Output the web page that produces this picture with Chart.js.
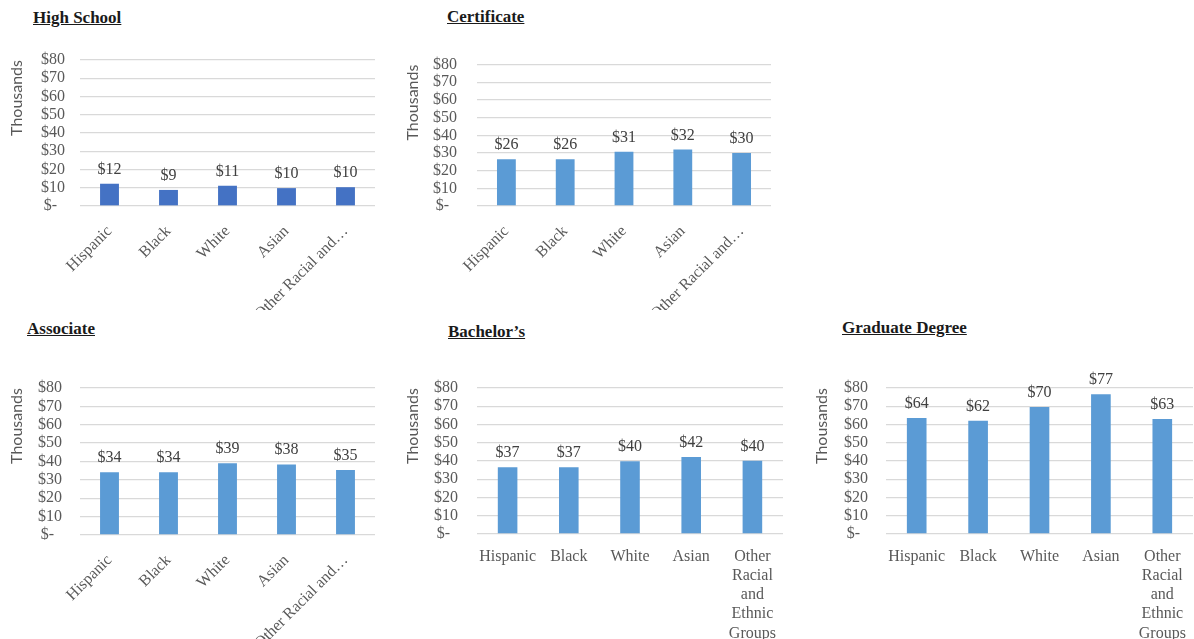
<!DOCTYPE html>
<html>
<head>
    <title>Earnings by Race and Education</title>
    <script src="https://cdn.jsdelivr.net/npm/chart.js"></script>
    <style>
        body { margin: 0; background: #fff; width: 1194px; height: 639px; position: relative; overflow: hidden; }
        .title { position: absolute; font: bold 17px "Liberation Serif", serif; color: #1a1a1a; text-decoration: underline; white-space: nowrap; }
        .box { position: absolute; }
    </style>
</head>
<body>
    <div class="title" style="left:33px; top:8px;">High School</div>
    <div class="title" style="left:447px; top:7px;">Certificate</div>
    <div class="title" style="left:27px; top:319px;">Associate</div>
    <div class="title" style="left:448px; top:322px;">Bachelor’s</div>
    <div class="title" style="left:842px; top:318px;">Graduate Degree</div>

    <div class="box" style="left:0px; top:35px; width:385px; height:275px;"><canvas id="hsChart"></canvas></div>
    <div class="box" style="left:396px; top:35px; width:394px; height:275px;"><canvas id="certChart"></canvas></div>
    <div class="box" style="left:0px; top:350px; width:390px; height:289px;"><canvas id="assocChart"></canvas></div>
    <div class="box" style="left:396px; top:350px; width:394px; height:289px;"><canvas id="bachChart"></canvas></div>
    <div class="box" style="left:805px; top:350px; width:389px; height:289px;"><canvas id="gradChart"></canvas></div>

    <script>
        // categories
        const shortLabels = ['Hispanic', 'Black', 'White', 'Asian', 'Other Racial and…'];
        const fullLabels = ['Hispanic', 'Black', 'White', 'Asian', ['Other', 'Racial', 'and', 'Ethnic', 'Groups']];

        // median earnings, thousands of dollars
        const highSchool = [12.2, 8.8, 11.1, 9.8, 10.3];
        const certificate = [26.4, 26.4, 30.7, 31.9, 30.0];
        const associate = [34.2, 34.2, 39.0, 38.4, 35.4];
        const bachelors = [36.6, 36.6, 39.8, 42.2, 40.2];
        const graduate = [63.6, 62.0, 69.6, 76.6, 63.0];

        const yMin = 0, yMax = 80, yStep = 10;

        const gray = '#595959';

        // labels above the bars
        const valueLabels = {
            id: 'valueLabels',
            afterDatasetsDraw(chart) {
                const ctx = chart.ctx;
                const values = chart.data.datasets[0].data;
                ctx.save();
                ctx.font = '16px "Liberation Serif"';
                ctx.fillStyle = '#404040';
                ctx.textAlign = 'center';
                ctx.textBaseline = 'alphabetic';
                chart.getDatasetMeta(0).data.forEach(function (bar, i) {
                    ctx.fillText('$' + Math.round(values[i]), bar.x, bar.y - 10);
                });
                ctx.restore();
            }
        };

        function makeChart(id, labels, values, color, rotated, box) {
            const ctx = document.getElementById(id).getContext('2d');
            return new Chart(ctx, {
                type: 'bar',
                data: {
                    labels: labels,
                    datasets: [{
                        data: values,
                        backgroundColor: color,
                        barPercentage: 0.32,
                        categoryPercentage: 1
                    }]
                },
                options: {
                    responsive: true,
                    maintainAspectRatio: false,
                    animation: false,
                    layout: { padding: { top: box.top, right: box.right, left: 0, bottom: 0 } },
                    plugins: { legend: { display: false }, tooltip: { enabled: false } },
                    scales: {
                        x: {
                            grid: { display: false },
                            border: { display: false },
                            ticks: {
                                color: gray,
                                font: { family: 'Liberation Serif', size: 16 },
                                autoSkip: false,
                                maxRotation: rotated ? 45 : 0,
                                minRotation: rotated ? 45 : 0,
                                padding: rotated ? 8 : 5
                            },
                            afterFit: function (scale) { scale.height = box.xHeight; }
                        },
                        y: {
                            min: yMin,
                            max: yMax,
                            border: { display: false },
                            grid: { color: '#d9d9d9', drawTicks: false, lineWidth: 1.3 },
                            ticks: {
                                stepSize: yStep,
                                autoSkip: false,
                                color: gray,
                                padding: box.tickPad,
                                font: { family: 'Liberation Serif', size: 16 },
                                callback: function (v) { return v === 0 ? '$-  ' : '$' + v; }
                            },
                            title: {
                                display: true,
                                text: 'Thousands',
                                align: 'end',
                                color: gray,
                                font: { family: 'Lato', size: 16 },
                                padding: { top: 7, bottom: 0 }
                            },
                            afterFit: function (scale) { scale.width = box.yWidth; }
                        }
                    }
                },
                plugins: [valueLabels]
            });
        }

        makeChart('hsChart', shortLabels, highSchool, '#4472c4', true,
            { top: 25, right: 10, xHeight: 104, yWidth: 80, tickPad: 15 });
        makeChart('certChart', shortLabels, certificate, '#5b9bd5', true,
            { top: 23, right: 19, xHeight: 104, yWidth: 81, tickPad: 20 });
        makeChart('assocChart', shortLabels, associate, '#5b9bd5', true,
            { top: 38, right: 15, xHeight: 104, yWidth: 80, tickPad: 18 });
        makeChart('bachChart', fullLabels, bachelors, '#5b9bd5', false,
            { top: 38, right: 7, xHeight: 105, yWidth: 81, tickPad: 19 });
        makeChart('gradChart', fullLabels, graduate, '#5b9bd5', false,
            { top: 38, right: 1, xHeight: 105, yWidth: 81, tickPad: 18 });
    </script>
</body>
</html>
